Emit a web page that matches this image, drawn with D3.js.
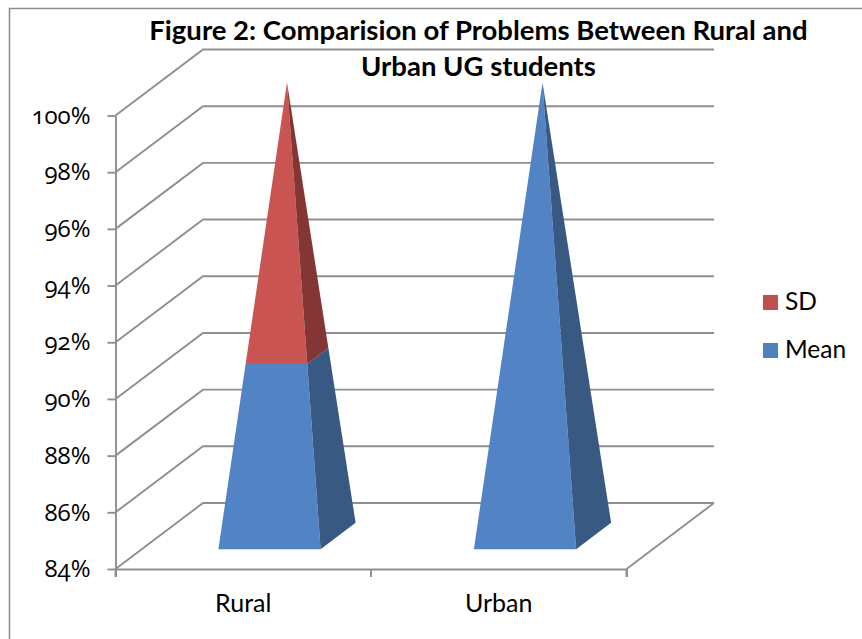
<!DOCTYPE html>
<html>
<head>
    <title>Figure 2</title>
    <script src="https://cdnjs.cloudflare.com/ajax/libs/d3/7.8.5/d3.min.js"></script>
    <style>
        body { margin: 0; background: white; }
        svg { display: block; }
        text { font-family: Lato, "Open Sans", sans-serif; fill: #000; }
        .tick-label text { font-family: "Open Sans", Lato, sans-serif; font-feature-settings: "onum"; }
    </style>
</head>
<body>
    <div id="chart"></div>
    <script>
        const categories = ['Rural', 'Urban'];
        const meanValues = [90.35, 100];
        const sdValues = [9.65, 0];
        const yTicks = [84, 86, 88, 90, 92, 94, 96, 98, 100];
        const titleLines = ['Figure 2: Comparision of Problems Between Rural and', 'Urban UG students'];
        const legendItems = ['SD', 'Mean'];

        const GRID = '#8f8f8f';
        const COLORS = {
            Mean: { front: '#5183c5', side: '#385a82', key: '#4f81bd' },
            SD: { front: '#c95451', side: '#843634', key: '#c0504d' }
        };

        const width = 862, height = 639;
        const wallDx = 87.5, wallDy = -66;   // offset of the back wall from the front of the floor

        const svg = d3.select('#chart')
            .append('svg')
            .attr('width', width)
            .attr('height', height);

        const x = d3.scaleBand()
            .domain(categories)
            .range([115.5, 626.5])
            .paddingInner(0.6)
            .paddingOuter(0.3);

        const y = d3.scaleLinear()
            .domain([84, 100])
            .range([569, 115.5]);

        // depth 0 = front of floor, 1 = back wall
        const project = (px, py, depth) => [px + wallDx * depth, py + wallDy * depth];
        const lerp = (a, b, t) => [a[0] + (b[0] - a[0]) * t, a[1] + (b[1] - a[1]) * t];

        // Chart frame
        svg.append('path')
            .attr('d', `M9.5,${height}V8.5H${width}`)
            .attr('fill', 'none')
            .attr('stroke', GRID)
            .attr('stroke-width', 1.6);

        // Walls and gridlines
        const [xMin, xMax] = x.range();
        yTicks.forEach(t => {
            const a = project(xMin, y(t), 0);
            const b = project(xMin, y(t), 1);
            const c = project(xMax, y(t), 1);
            svg.append('path')
                .attr('d', d3.line()([a, b, c]))
                .attr('fill', 'none')
                .attr('stroke', GRID)
                .attr('stroke-width', 1.9);
        });

        // Right edge of the floor
        svg.append('path')
            .attr('d', d3.line()([project(xMax, y(84), 0), project(xMax, y(84), 1)]))
            .attr('stroke', GRID)
            .attr('stroke-width', 1.9);

        // Axes
        const yAxis = svg.append('g')
            .attr('class', 'tick-label')
            .attr('transform', `translate(${xMin},0)`)
            .call(d3.axisLeft(y)
                .tickValues(yTicks)
                .tickFormat(d => d + '%')
                .tickSize(8)
                .tickSizeOuter(0)
                .tickPadding(17));
        yAxis.selectAll('line').attr('stroke', GRID).attr('stroke-width', 1.9);
        yAxis.select('.domain').attr('stroke', GRID).attr('stroke-width', 1.9);
        yAxis.selectAll('text').style('font-size', '24px');

        const xAxis = svg.append('g')
            .attr('transform', `translate(0,${y(84)})`)
            .call(d3.axisBottom(x)
                .tickSize(0)
                .tickSizeOuter(8)
                .tickPadding(25));
        xAxis.select('.domain').attr('stroke', GRID).attr('stroke-width', 1.9);
        xAxis.selectAll('text').style('font-size', '25px');

        // Tick marks sit between the categories
        x.domain().concat([null]).forEach((c, i) => {
            const tx = xMin + x.step() * i;
            svg.append('line')
                .attr('x1', tx).attr('x2', tx)
                .attr('y1', y(84)).attr('y2', y(84) + 8)
                .attr('stroke', GRID)
                .attr('stroke-width', 1.9);
        });

        // Pyramids, one stacked section per series
        categories.forEach((cat, i) => {
            const left = x(cat), right = x(cat) + x.bandwidth();
            const base = y(84);
            const frontLeft = project(left, base, 0.3);
            const frontRight = project(right, base, 0.3);
            const backRight = project(right, base, 0.7);
            const apex = project(x(cat) + x.bandwidth() / 2, y(100), 0.5);

            const at = v => (v - 84) / (100 - 84);
            const sections = [
                { name: 'Mean', from: 84, to: meanValues[i] },
                { name: 'SD', from: meanValues[i], to: meanValues[i] + sdValues[i] }
            ];

            sections.filter(s => s.to > s.from).forEach(s => {
                const t0 = at(s.from), t1 = at(s.to);
                svg.append('path')
                    .attr('d', d3.line()([
                        lerp(frontLeft, apex, t0), lerp(frontRight, apex, t0),
                        lerp(frontRight, apex, t1), lerp(frontLeft, apex, t1)
                    ]) + 'Z')
                    .attr('fill', COLORS[s.name].front);
                svg.append('path')
                    .attr('d', d3.line()([
                        lerp(frontRight, apex, t0), lerp(backRight, apex, t0),
                        lerp(backRight, apex, t1), lerp(frontRight, apex, t1)
                    ]) + 'Z')
                    .attr('fill', COLORS[s.name].side);
            });
        });

        // Title
        svg.selectAll('.title')
            .data(titleLines)
            .join('text')
            .attr('class', 'title')
            .attr('x', 478.5)
            .attr('y', (d, i) => 40 + i * 36)
            .attr('text-anchor', 'middle')
            .style('font-size', '27.5px')
            .style('font-weight', 'bold')
            .text(d => d);

        // Legend
        const legend = svg.selectAll('.legend')
            .data(legendItems)
            .join('g')
            .attr('class', 'legend')
            .attr('transform', (d, i) => `translate(763,${295 + i * 48})`);
        legend.append('rect')
            .attr('width', 15)
            .attr('height', 15)
            .attr('fill', d => COLORS[d].key);
        legend.append('text')
            .attr('x', 22)
            .attr('y', 15)
            .style('font-size', '24.5px')
            .text(d => d);
    </script>
</body>
</html>
